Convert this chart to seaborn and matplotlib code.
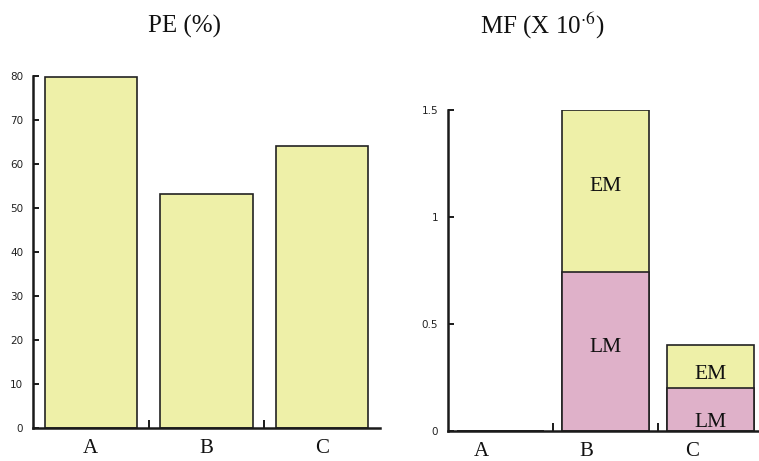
import matplotlib
matplotlib.use("Agg")
import matplotlib.pyplot as plt
import seaborn as sns
import pandas as pd

# Data
categories = ["A", "B", "C"]
pe_values = [79.8, 53.1, 64.2]
mf_lm = [0.0, 0.74, 0.20]
mf_em = [0.0, 0.76, 0.20]

pe_title = "PE (%)"
mf_title = r"MF (X 10$^{\cdot 6}$)"

yellow = "#EEF0A8"
pink = "#DFB1C9"

sns.set_theme(style="white")
plt.rcParams["font.family"] = ["Liberation Serif", "DejaVu Serif"]
plt.rcParams["mathtext.fontset"] = "stix"

fig = plt.figure(figsize=(7.59, 4.61), dpi=100)
ax1 = fig.add_axes([33 / 759, 33 / 461, 347 / 759, 352 / 461])
ax2 = fig.add_axes([448 / 759, 30.3 / 461, 315 / 759, 320.7 / 461])

pe_df = pd.DataFrame({"cat": categories, "pe": pe_values})
sns.barplot(data=pe_df, x="cat", y="pe", ax=ax1, color=yellow, saturation=1,
            width=0.8, edgecolor="#222222", linewidth=1.2)

mf_df = pd.DataFrame({"cat": categories, "lm": mf_lm, "em": mf_em})
mf_df["total"] = mf_df["lm"] + mf_df["em"]
sns.barplot(data=mf_df, x="cat", y="total", ax=ax2, color=yellow, saturation=1,
            width=0.82, edgecolor="#222222", linewidth=1.2)
sns.barplot(data=mf_df, x="cat", y="lm", ax=ax2, color=pink, saturation=1,
            width=0.82, edgecolor="#222222", linewidth=1.2)

# Segment labels
seg_style = dict(ha="center", va="center", fontsize=15.5, color="#111111",
                 family=["Liberation Serif", "DejaVu Serif"])
lm_label_pos = [None, 0.39, 0.04]
em_label_pos = [None, 1.14, 0.265]
for i in range(len(categories)):
    if lm_label_pos[i] is not None:
        ax2.text(i, lm_label_pos[i], "LM", **seg_style, clip_on=False)
    if em_label_pos[i] is not None:
        ax2.text(i, em_label_pos[i], "EM", **seg_style)

# Axes styling
ax1.set_ylim(0, 80)
ax1.set_yticks(range(0, 81, 10))
ax2.set_ylim(0, 1.5)
ax2.set_yticks([0, 0.5, 1, 1.5])
ax2.set_yticklabels(["0", "0.5", "1", "1.5"])

for ax, xlab_shift in ((ax1, 0.0), (ax2, -0.18)):
    ax.set_xlim(-0.5, 2.5)
    ax.set_xlabel("")
    ax.set_ylabel("")
    for side in ("top", "right"):
        ax.spines[side].set_visible(False)
    for side in ("left", "bottom"):
        ax.spines[side].set_color("#1a1a1a")
        ax.spines[side].set_linewidth(1.8)
    ax.set_xticks([i + xlab_shift for i in range(len(categories))])
    ax.set_xticklabels(categories, fontsize=15,
                       family=["Liberation Serif", "DejaVu Serif"])
    ax.set_xticks([0.5, 1.5], minor=True)
    ax.tick_params(axis="x", which="major", length=0, pad=8, colors="#111111")
    ax.tick_params(axis="x", which="minor", direction="in", length=6,
                   width=1.4, color="#1a1a1a", bottom=True)
    ax.tick_params(axis="y", direction="in", length=4, width=1.4,
                   color="#1a1a1a", pad=7, labelsize=7.5, left=True)
    for lab in ax.get_yticklabels():
        lab.set_family(["DejaVu Sans"])
        lab.set_color("#222222")
    ax.set_facecolor("white")

fig.text(185 / 759, 1 - 26 / 461, pe_title, ha="center", va="center",
         fontsize=18, color="#111111")
fig.text(542 / 759, 1 - 26 / 461, mf_title, ha="center", va="center",
         fontsize=18, color="#111111")

fig.savefig("out.png", dpi=100, facecolor="white")
